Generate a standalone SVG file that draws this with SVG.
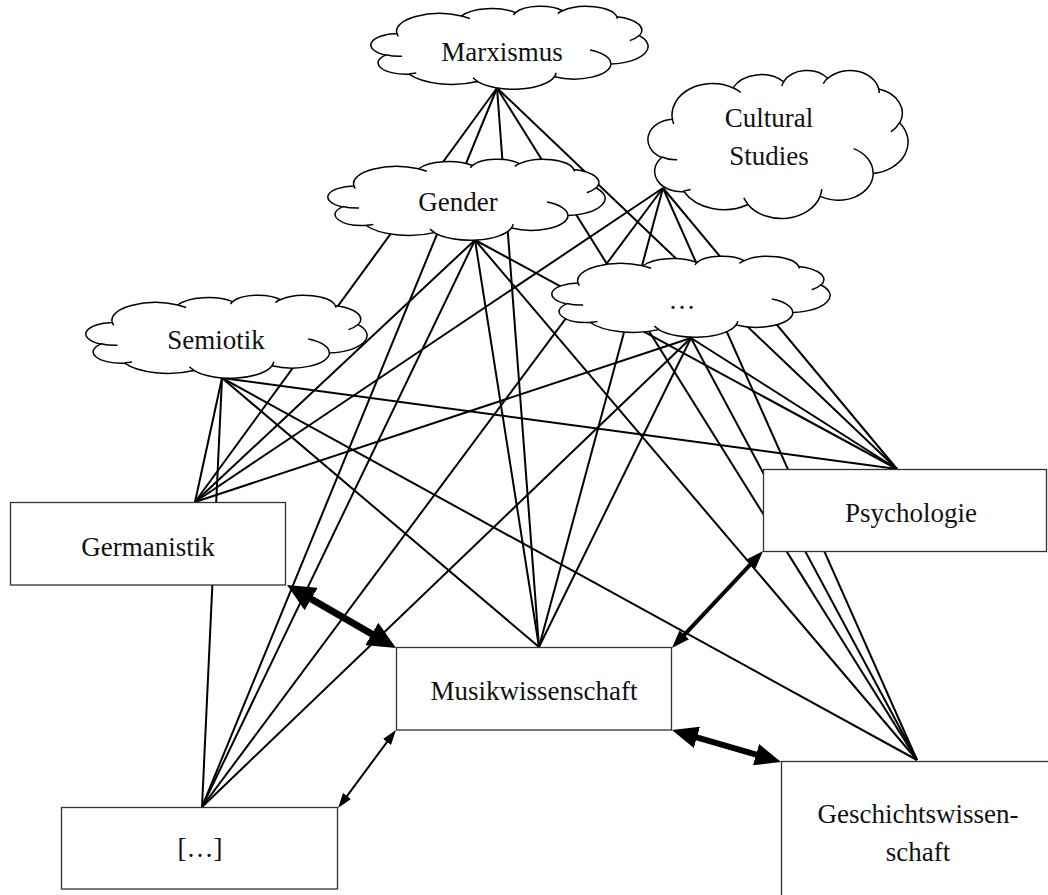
<svg xmlns="http://www.w3.org/2000/svg" width="1048" height="895" viewBox="0 0 1048 895">
<style>
.ln{stroke:#000;stroke-width:2;fill:none}
.ar{stroke:#000;fill:none}
.box{fill:#fff;stroke:#333;stroke-width:1.3}
.cl{fill:#fff;stroke:#000;stroke-width:1.5;vector-effect:non-scaling-stroke}
.cr{fill:none;stroke:#000;stroke-width:1.5;vector-effect:non-scaling-stroke}
.t{font-family:"Liberation Serif","DejaVu Serif",serif;font-size:27px;fill:#111;text-anchor:middle}
</style>
<defs>
<g id="cloud">
<path class="cl" d="M3900 14370A6753 9190 0 0 1 14005 5200A5333 7267 0 0 1 22456 3430A4365 5945 0 0 1 29833 2479A4857 6595 0 0 1 38319 5573A5333 7273 0 0 1 41820 15457A6775 9220 0 0 1 37406 30199A5785 7867 0 0 1 28558 36810A6752 9215 0 0 1 16484 39264A7720 10543 0 0 1 5806 35471A4360 5918 0 0 1 2115 25549A4345 5945 0 0 1 3900 14370Z"/>
<path class="cr" d="M4693 26177A4345 5945 0 0 1 2160 25379M6928 34899A4360 5918 0 0 1 5820 35281M16478 39090A6752 9215 0 0 1 15809 37345M28827 34751A6752 9215 0 0 1 28560 36661M34129 22954A5785 7867 0 0 1 37380 30089M41798 15354A5333 7273 0 0 1 40350 18029M38324 5426A4857 6595 0 0 1 38401 6689M29078 3952A4857 6595 0 0 1 29819 2341M22141 4720A4365 5945 0 0 1 22500 3329M14000 5192A6753 9190 0 0 1 15303 6544M4127 15789A6753 9190 0 0 1 3900 14373"/>
</g>
<marker id="mA" markerUnits="userSpaceOnUse" markerWidth="28" markerHeight="26" refX="2" refY="13" orient="auto-start-reverse"><path d="M0,0 L28,13 L0,26 Z" fill="#000"/></marker>
<marker id="mB" markerUnits="userSpaceOnUse" markerWidth="18" markerHeight="13" refX="2" refY="6.5" orient="auto-start-reverse"><path d="M0,0 L18,6.5 L0,13 Z" fill="#000"/></marker>
<marker id="mC" markerUnits="userSpaceOnUse" markerWidth="26" markerHeight="22" refX="2" refY="11" orient="auto-start-reverse"><path d="M0,0 L26,11 L0,22 Z" fill="#000"/></marker>
<marker id="mD" markerUnits="userSpaceOnUse" markerWidth="15" markerHeight="10" refX="2" refY="5" orient="auto-start-reverse"><path d="M0,0 L15,5 L0,10 Z" fill="#000"/></marker>
</defs>
<rect width="1048" height="895" fill="#fff"/>
<g id="connectors">
<line class="ln" x1="497" y1="88" x2="195" y2="502"/>
<line class="ln" x1="497" y1="88" x2="539" y2="647"/>
<line class="ln" x1="497" y1="88" x2="897" y2="469"/>
<line class="ln" x1="497" y1="88" x2="917" y2="760"/>
<line class="ln" x1="497" y1="88" x2="202" y2="807"/>
<line class="ln" x1="475" y1="240" x2="195" y2="502"/>
<line class="ln" x1="475" y1="240" x2="539" y2="647"/>
<line class="ln" x1="475" y1="240" x2="897" y2="469"/>
<line class="ln" x1="475" y1="240" x2="917" y2="760"/>
<line class="ln" x1="475" y1="240" x2="202" y2="807"/>
<line class="ln" x1="663" y1="188" x2="195" y2="502"/>
<line class="ln" x1="663" y1="188" x2="539" y2="647"/>
<line class="ln" x1="663" y1="188" x2="897" y2="469"/>
<line class="ln" x1="663" y1="188" x2="917" y2="760"/>
<line class="ln" x1="663" y1="188" x2="202" y2="807"/>
<line class="ln" x1="691" y1="338" x2="195" y2="502"/>
<line class="ln" x1="691" y1="338" x2="539" y2="647"/>
<line class="ln" x1="691" y1="338" x2="897" y2="469"/>
<line class="ln" x1="691" y1="338" x2="917" y2="760"/>
<line class="ln" x1="691" y1="338" x2="202" y2="807"/>
<line class="ln" x1="222" y1="378" x2="195" y2="502"/>
<line class="ln" x1="222" y1="378" x2="539" y2="647"/>
<line class="ln" x1="222" y1="378" x2="897" y2="469"/>
<line class="ln" x1="222" y1="378" x2="917" y2="760"/>
<line class="ln" x1="222" y1="378" x2="202" y2="807"/>
<line class="ar" stroke-width="7" x1="309.5" y1="598" x2="373.5" y2="635" marker-start="url(#mA)" marker-end="url(#mA)"/>
<line class="ar" stroke-width="4" x1="752.1" y1="562.7" x2="682.9" y2="636.3" marker-start="url(#mB)" marker-end="url(#mB)"/>
<line class="ar" stroke-width="6" x1="695" y1="736.8" x2="758" y2="755.2" marker-start="url(#mC)" marker-end="url(#mC)"/>
<line class="ar" stroke-width="2" x1="345.8" y1="797.6" x2="388.2" y2="740.4" marker-start="url(#mD)" marker-end="url(#mD)"/>
</g>
<g id="marxismus">
<use href="#cloud" transform="translate(372,6) scale(0.006389,0.001921)"/>
<text class="t" x="502" y="61">Marxismus</text>
</g>
<g id="cultural-studies">
<use href="#cloud" transform="translate(649,70) scale(0.005995,0.003426)"/>
<text class="t" x="769" y="127">Cultural</text>
<text class="t" x="769" y="165">Studies</text>
</g>
<g id="gender">
<use href="#cloud" transform="translate(329,159) scale(0.006389,0.001875)"/>
<text class="t" x="458" y="211">Gender</text>
</g>
<g id="etc-cloud">
<use href="#cloud" transform="translate(553,256) scale(0.006412,0.001875)"/>
<text class="t" x="682" y="309">…</text>
</g>
<g id="semiotik">
<use href="#cloud" transform="translate(87,295) scale(0.006481,0.001921)"/>
<text class="t" x="216" y="349">Semiotik</text>
</g>
<g id="germanistik">
<rect class="box" x="10.5" y="502.5" width="275" height="82.5"/>
<text class="t" x="148" y="556">Germanistik</text>
</g>
<g id="psychologie">
<rect class="box" x="763.5" y="469.5" width="283" height="82"/>
<text class="t" x="911" y="522">Psychologie</text>
</g>
<g id="musikwissenschaft">
<rect class="box" x="396.5" y="647.5" width="275" height="82.5"/>
<text class="t" x="534" y="700">Musikwissenschaft</text>
</g>
<g id="geschichtswissenschaft">
<rect class="box" x="781.5" y="761.5" width="300" height="200"/>
<text class="t" x="918" y="823">Geschichtswissen-</text>
<text class="t" x="918" y="861">schaft</text>
</g>
<g id="etc-box">
<rect class="box" x="61.5" y="807.5" width="276" height="81.5"/>
<text class="t" x="200" y="857">[…]</text>
</g>
</svg>
